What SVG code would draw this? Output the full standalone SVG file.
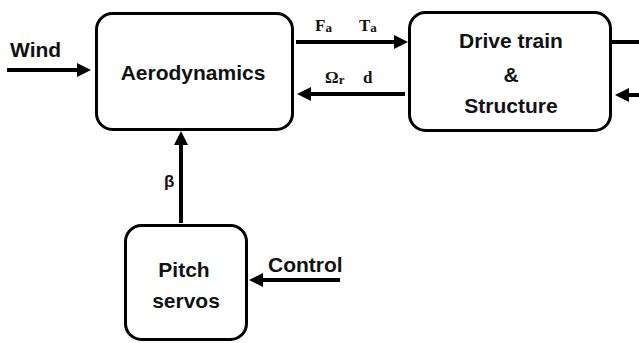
<svg xmlns="http://www.w3.org/2000/svg" width="639" height="343" viewBox="0 0 639 343">
<style>
.box{fill:#fff;stroke:#000;stroke-width:3}
.lbl{font-family:"Liberation Sans",Arial,sans-serif;font-weight:bold;font-size:21px;fill:#111}
.ser{font-family:"Liberation Serif","Times New Roman",serif;font-weight:bold;font-size:17px;fill:#111}
.sub{font-size:13px}
.ln{stroke:#000;stroke-width:4;fill:none}
.arr{marker-end:url(#ah)}
</style>
<defs>
<marker id="ah" viewBox="0 0 14 14" refX="6" refY="7" markerWidth="14" markerHeight="14" markerUnits="userSpaceOnUse" orient="auto">
<path d="M0,0 L14,7 L0,14 z" fill="#000"/>
</marker>
</defs>
<g id="aerodynamics">
<rect class="box" x="96.5" y="13.5" width="196" height="116" rx="16"/>
<text class="lbl" x="193" y="80" text-anchor="middle">Aerodynamics</text>
</g>
<g id="drivetrain">
<rect class="box" x="409.5" y="12.5" width="201" height="118" rx="16"/>
<text class="lbl" x="511" y="48" text-anchor="middle">Drive train</text>
<text class="lbl" x="511" y="82" text-anchor="middle">&amp;</text>
<text class="lbl" x="511" y="113" text-anchor="middle">Structure</text>
</g>
<g id="pitch">
<rect class="box" x="125.5" y="225.5" width="121" height="114" rx="16"/>
<text class="lbl" x="184" y="277" text-anchor="middle">Pitch</text>
<text class="lbl" x="186" y="308" text-anchor="middle">servos</text>
</g>
<g id="connectors">
<path class="ln arr" d="M7,70 L83,70"/>
<text class="lbl" x="10" y="57">Wind</text>
<path class="ln arr" d="M296,42 L400,42"/>
<text class="ser" x="315" y="31">F<tspan class="sub" dy="1">a</tspan><tspan x="359" dy="-1">T</tspan><tspan class="sub" dy="1">a</tspan></text>
<path class="ln arr" d="M405,94 L305,94"/>
<text class="ser" x="325" y="83">Ω<tspan class="sub" dy="1">r</tspan><tspan x="363" dy="-1">d</tspan></text>
<path class="ln" d="M610,42 L639,42"/>
<path class="ln arr" d="M639,95 L623,95"/>
<path class="ln arr" d="M181,223 L181,139"/>
<text class="lbl" x="164" y="187" style="font-size:17px">β</text>
<path class="ln arr" d="M340,280 L257,280"/>
<text class="lbl" x="268" y="272">Control</text>
</g>
</svg>
